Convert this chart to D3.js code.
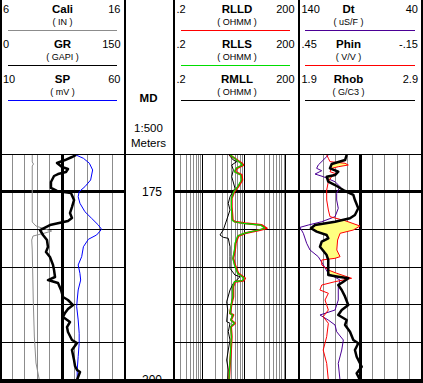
<!DOCTYPE html>
<html><head><meta charset="utf-8">
<script src="https://cdn.jsdelivr.net/npm/d3@7"></script>
<style>
html,body{margin:0;padding:0;background:#fff;}
svg{display:block;font-family:"Liberation Sans",Arial,sans-serif;}
</style></head><body>
<svg id="c" width="423" height="383"></svg>
<script>
// ---------------- data ----------------
const depthTicks = [175, 180, 185, 190, 195, 200];
const depthLabels = [175, 200];

const caliDepth = [170.00,171.06,171.33,171.59,179.03,179.56,179.96,180.22,180.49,180.89,181.42,182.74,189.38,194.29,197.74,200.00];
const caliVal   = [8.59,8.59,8.69,8.59,8.59,8.89,9.61,10.15,9.61,8.65,8.55,8.59,8.67,8.76,8.89,9.16];

const grDepth = [170.13,170.40,170.80,171.19,171.73,171.99,172.39,172.66,172.92,173.72,174.51,174.91,175.18,176.11,177.04,177.84,178.50,178.89,179.43,180.09,180.75,181.42,182.35,183.01,183.67,184.73,185.40,186.33,186.73,187.12,188.05,188.98,189.38,190.05,190.58,191.11,191.64,192.30,192.97,193.63,194.69,195.09,196.02,197.35,198.14,198.67,198.94,200.00];
const grVal   = [91.6,86.7,78.3,68.7,74.7,81.9,79.5,69.9,65.1,61.4,61.4,68.7,85.5,89.2,86.7,84.3,86.7,81.9,60.2,48.2,51.8,56.6,57.8,55.4,60.2,63.9,65.1,66.3,57.8,69.9,73.5,75.9,81.9,88.0,81.9,78.3,75.9,84.3,80.7,81.9,86.7,92.8,86.7,89.2,90.4,92.8,96.4,92.8];

const spDepth = [170.13,170.57,171.23,172.12,173.45,174.34,175.00,175.67,176.54,177.66,178.54,179.43,180.00,180.75,181.32,182.31,183.63,184.73,185.84,186.73,188.05,189.38,190.27,192.03,193.80,195.13,196.91,198.67,200.00];
const spVal   = [40.5,43.5,45.9,47.2,46.4,44.1,41.8,41.4,42.1,44.1,46.8,49.5,50.8,48.8,45.5,43.5,42.8,41.4,42.1,42.4,41.4,41.0,40.8,41.4,41.8,41.8,41.4,41.0,41.0];

const resDepth = [170.13,171.23,171.46,171.90,172.35,172.79,173.45,174.34,175.00,175.88,176.99,178.76,178.99,179.20,179.43,179.86,180.09,180.53,180.89,181.85,182.74,183.85,184.73,185.84,186.50,186.82,186.95,187.62,188.94,189.82,191.15,191.37,192.04,192.47,192.92,194.25,196.02,197.79,200.00];
const rlldVal = [4.54,8.67,9.46,6.58,5.98,8.67,8.95,7.18,5.75,4.99,4.99,5.27,5.98,10.4,26.2,34.5,23.8,10.4,7.18,6.22,5.98,5.45,5.98,7.18,10.4,9.46,5.98,5.45,5.45,4.99,4.54,5.45,4.8,5.98,4.8,4.99,4.8,4.54,4.30];
const rllsVal = [4.6,8.2,9.0,6.3,5.8,8.2,8.5,6.9,5.6,4.9,4.9,5.1,5.7,9.6,24.5,31.0,22.0,9.8,6.9,6.0,5.8,5.3,5.8,6.9,9.9,8.9,5.8,5.3,5.3,4.9,4.5,5.3,4.7,5.8,4.7,4.9,4.7,4.5,4.3];

const rmllDepth = [170.13,170.80,171.02,171.46,172.12,173.01,174.55,175.67,176.54,177.43,178.76,180.09,180.75,181.06,181.19,182.31,183.63,185.18,186.07,186.29,187.17,188.05,189.61,190.71,192.26,192.47,193.59,194.69,196.02,197.35,198.67,200.00];
const rmllVal   = [4.30,5.45,6.58,4.99,5.45,4.99,5.98,4.54,4.13,4.54,3.78,3.13,2.61,3.13,4.13,4.54,4.54,4.54,5.98,7.89,5.45,4.54,3.78,4.0,3.78,4.54,4.13,4.54,4.13,3.78,4.13,4.0];

const dtDepth = [170.13,170.80,171.46,171.90,172.22,172.66,173.01,173.68,174.34,175.22,176.11,177.21,178.32,178.99,179.43,179.74,180.53,181.85,182.74,183.63,184.73,185.84,186.73,187.62,189.38,190.71,191.37,192.04,192.70,193.59,194.69,196.02,197.79,200.00];
const dtVal   = [115.9,119.9,124.0,125.3,121.2,126.6,119.9,110.4,106.4,109.1,109.1,107.8,110.4,121.2,132.1,138.8,136.1,133.4,130.7,124.0,119.9,115.9,106.4,107.8,107.8,110.4,122.6,115.9,110.4,109.1,103.7,105.0,107.8,106.4];

const phinDepth = [170.13,170.57,171.02,171.23,171.46,171.69,171.90,172.35,172.66,173.01,173.68,174.78,176.11,177.43,178.32,178.85,179.56,180.09,180.53,181.42,182.74,183.63,183.85,184.07,184.73,185.40,185.84,186.50,186.95,187.39,188.05,188.49,189.38,190.71,191.60,192.47,194.25,196.02,197.79,200.00];
const phinVal   = [.313,.305,.297,.224,.208,.257,.289,.297,.264,.289,.305,.313,.313,.305,.297,.224,.151,.184,.248,.260,.264,.248,.273,.337,.337,.305,.264,.192,.273,.337,.346,.305,.321,.305,.330,.305,.313,.330,.313,.305];

const rhobDepth = [170.13,170.80,171.33,171.90,172.35,172.79,173.01,173.68,174.12,174.78,175.44,176.11,177.21,178.10,178.54,178.99,179.43,179.86,180.31,180.75,181.19,181.64,182.31,183.41,184.07,185.40,186.06,186.29,186.50,186.95,187.39,188.05,188.94,190.04,190.71,191.37,192.04,192.70,193.59,194.69,195.13,196.02,196.91,198.24,199.12,200.00];
const rhobVal   = [2.290,2.277,2.169,2.155,2.222,2.196,2.128,2.141,2.196,2.263,2.344,2.357,2.384,2.357,2.317,2.196,2.034,2.001,2.047,2.128,2.141,2.088,2.074,2.128,2.141,2.141,2.141,2.222,2.303,2.263,2.222,2.250,2.277,2.303,2.250,2.222,2.290,2.277,2.317,2.344,2.384,2.357,2.371,2.412,2.371,2.398];

// header legend entries, per track
const track1Names = ["Cali", "GR", "SP"];
const track1Units = ["( IN )", "( GAPI )", "( mV )"];
const track1Left  = ["6", "0", "10"];
const track1Right = ["16", "150", "60"];
const track2Names = ["RLLD", "RLLS", "RMLL"];
const track2Units = ["( OHMM )", "( OHMM )", "( OHMM )"];
const track2Left  = [".2", ".2", ".2"];
const track2Right = ["200", "200", "200"];
const track3Names = ["Dt", "Phin", "Rhob"];
const track3Units = ["( uS/F )", "( V/V )", "( G/C3 )"];
const track3Left  = ["140", ".45", "1.9"];
const track3Right = ["40", "-.15", "2.9"];
const depthHeader = ["MD", "1:500", "Meters"];

// ---------------- styling / layout ----------------
const C = {grey:"#8c8c8c", blue:"#0000ff", red:"#ff0000", green:"#00dd00", purple:"#4b0096", fill:"#ffff80"};
const bodyTop = 154, bodyBot = 380;
const T1 = [0, 124.5], TD = [125, 173.5], T2 = [173.5, 298.5], T3 = [298.5, 422];

const svg = d3.select("#c");
const y = d3.scaleLinear().domain([170, 200]).range([bodyTop, bodyBot]);
const xCali = d3.scaleLinear().domain([6, 16]).range(T1);
const xGR   = d3.scaleLinear().domain([0, 150]).range(T1);
const xSP   = d3.scaleLinear().domain([10, 60]).range(T1);
const xRes  = d3.scaleLog().domain([0.2, 200]).range(T2);
const xDt   = d3.scaleLinear().domain([140, 40]).range(T3);
const xPhin = d3.scaleLinear().domain([0.45, -0.15]).range(T3);
const xRhob = d3.scaleLinear().domain([1.9, 2.9]).range(T3);

svg.append("defs").append("clipPath").attr("id","bodyClip")
  .append("rect").attr("x",0).attr("y",bodyTop).attr("width",423).attr("height",bodyBot-bodyTop);

const grid = svg.append("g").attr("shape-rendering","crispEdges");

// vertical grid: track 1 (linear, 10 divisions)
d3.range(1,10).forEach(i => {
  const v = i*15, x = xGR(v);
  grid.append("line").attr("x1",x).attr("x2",x).attr("y1",bodyTop).attr("y2",bodyBot)
    .attr("stroke", i===5 ? "#000" : C.grey).attr("stroke-width", i===5 ? 2.5 : 1);
});
// track 3
d3.range(1,10).forEach(i => {
  const v = 1.9 + i*0.1, x = xRhob(v);
  grid.append("line").attr("x1",x).attr("x2",x).attr("y1",bodyTop).attr("y2",bodyBot)
    .attr("stroke", i===5 ? "#000" : C.grey).attr("stroke-width", i===5 ? 2.5 : 1);
});
// track 2 log grid
const logVals = [];
[0.1,1,10,100].forEach(dec => d3.range(1,10).forEach(m => { const v = +(m*dec).toPrecision(3); if (v>0.2 && v<200) logVals.push(v); }));
logVals.forEach(v => {
  const major = (v===1||v===10||v===100);
  grid.append("line").attr("x1",xRes(v)).attr("x2",xRes(v)).attr("y1",bodyTop).attr("y2",bodyBot)
    .attr("stroke", major ? "#000" : C.grey).attr("stroke-width", 1);
});
// horizontal depth lines in each curve track
[T1, T2, T3].forEach(T => {
  depthTicks.forEach(d => {
    const thick = (d % 25 === 0);
    grid.append("line").attr("x1",T[0]).attr("x2",T[1]).attr("y1",y(d)).attr("y2",y(d))
      .attr("stroke","#000").attr("stroke-width", thick ? 2.5 : 1);
  });
});

// ---------------- curves ----------------
const curves = svg.append("g").attr("clip-path","url(#bodyClip)");
function drawCurve(depths, vals, xs, color, width) {
  const pts = d3.zip(depths, vals);
  curves.append("path").datum(pts)
    .attr("d", d3.line().x(p => xs(p[1])).y(p => y(p[0])))
    .attr("fill","none").attr("stroke",color).attr("stroke-width",width).attr("stroke-linejoin","round");
}

// crossover fill between Rhob and Phin (where Phin is right of Rhob)
const rhobAt = d3.scaleLinear().domain(rhobDepth).range(rhobVal);
const phinAt = d3.scaleLinear().domain(phinDepth).range(phinVal);
const uDepth = Array.from(new Set(rhobDepth.concat(phinDepth))).sort((a,b)=>a-b);
const fillPts = [];
uDepth.forEach((d,i) => {
  const rx = xRhob(rhobAt(d)), px = xPhin(phinAt(d));
  if (i>0) {
    const pd = uDepth[i-1];
    const prx = xRhob(rhobAt(pd)), ppx = xPhin(phinAt(pd));
    const a = ppx - prx, b = px - rx;
    if (a*b < 0) {
      const t = a/(a-b), cd = pd + t*(d-pd);
      const cx = xRhob(rhobAt(cd));
      fillPts.push({d:cd, r:cx, p:cx});
    }
  }
  fillPts.push({d, r:rx, p:px});
});
curves.append("path").datum(fillPts)
  .attr("d", d3.area().y(p => y(p.d)).x0(p => p.r).x1(p => Math.max(p.r, p.p)))
  .attr("fill", C.fill).attr("stroke","none");

drawCurve(caliDepth, caliVal, xCali, C.grey, 1);
drawCurve(spDepth, spVal, xSP, C.blue, 1);
drawCurve(grDepth, grVal, xGR, "#000", 2.5);
drawCurve(rmllDepth, rmllVal, xRes, "#000", 1);
drawCurve(resDepth, rlldVal, xRes, C.red, 2);
drawCurve(resDepth, rllsVal, xRes, C.green, 1.2);
drawCurve(dtDepth, dtVal, xDt, C.purple, 1);
drawCurve(phinDepth, phinVal, xPhin, C.red, 1);
drawCurve(rhobDepth, rhobVal, xRhob, "#000", 2.5);

// ---------------- depth track labels ----------------
depthLabels.forEach(d => {
  svg.append("text").attr("x", 152).attr("y", y(d)).attr("dy","0.36em")
    .attr("text-anchor","middle").attr("font-size", 12).attr("fill","#000").text(d);
});

// ---------------- header ----------------
const hdr = svg.append("g");
function legend(names, units, lefts, rights, colors, T, lineX, titleX) {
  names.forEach((n,i) => {
    const base = 13 + 35*i;
    hdr.append("text").attr("x", T[0]+3).attr("y", base).attr("font-size",11).text(lefts[i]);
    hdr.append("text").attr("x", T[1]-4).attr("y", base).attr("font-size",11).attr("text-anchor","end").text(rights[i]);
    hdr.append("text").attr("x", titleX).attr("y", base).attr("font-size",11.5).attr("font-weight","bold").attr("text-anchor","middle").text(n);
    hdr.append("text").attr("x", titleX).attr("y", base+11.5).attr("font-size",9).attr("text-anchor","middle").text(units[i]);
    hdr.append("line").attr("x1", lineX[0]).attr("x2", lineX[1]).attr("y1", 30.5+35*i).attr("y2", 30.5+35*i)
      .attr("stroke", colors[i]).attr("stroke-width", 1.2).attr("shape-rendering","crispEdges");
  });
}
legend(track1Names, track1Units, track1Left, track1Right, [C.grey, "#000", C.blue], T1, [8,117], 62.5);
legend(track2Names, track2Units, track2Left, track2Right, [C.red, C.green, "#000"], T2, [181,290], 237);
legend(track3Names, track3Units, track3Left, track3Right, [C.purple, C.red, "#000"], T3, [305,415], 348.5);

hdr.append("text").attr("x",148.5).attr("y",102).attr("font-size",11.5).attr("font-weight","bold").attr("text-anchor","middle").text(depthHeader[0]);
hdr.append("text").attr("x",148.5).attr("y",132).attr("font-size",11.5).attr("text-anchor","middle").text(depthHeader[1]);
hdr.append("text").attr("x",148.5).attr("y",147).attr("font-size",11.5).attr("text-anchor","middle").text(depthHeader[2]);

// ---------------- frame ----------------
const frame = svg.append("g").attr("shape-rendering","crispEdges");
frame.append("line").attr("x1",0).attr("x2",423).attr("y1",154.5).attr("y2",154.5).attr("stroke","#000").attr("stroke-width",1);
[1, TD[0], TD[1], T3[0], 422].forEach(x => {
  frame.append("line").attr("x1",x).attr("x2",x).attr("y1",0).attr("y2",383).attr("stroke","#000").attr("stroke-width",2);
});
frame.append("rect").attr("x",0).attr("y",379).attr("width",423).attr("height",4).attr("fill","#000");
</script>
</body></html>
